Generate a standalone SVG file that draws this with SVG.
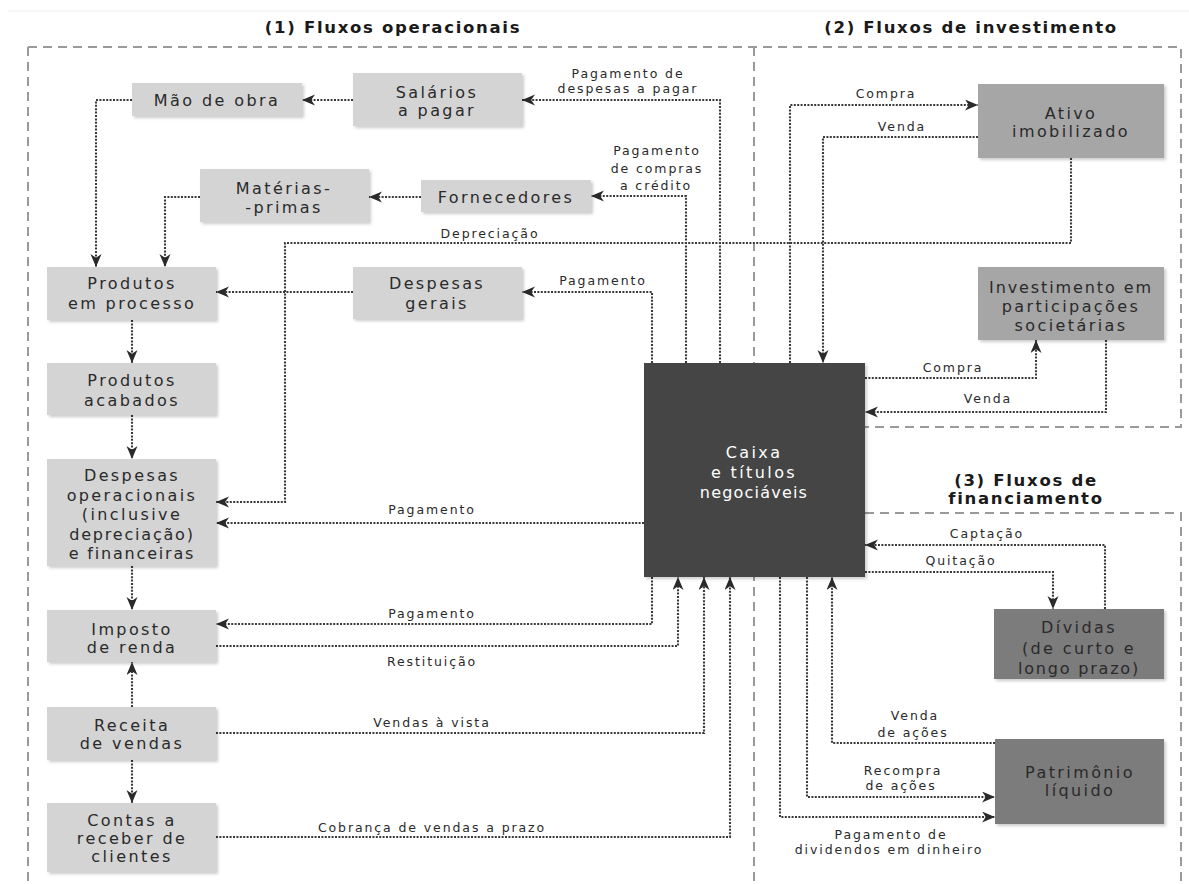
<svg xmlns="http://www.w3.org/2000/svg" width="1189" height="884" viewBox="0 0 1189 884">
<style>
.sec{fill:none;stroke:#9a9a9a;stroke-width:2;stroke-dasharray:9 6}
.c{fill:none;stroke:#3a3a3a;stroke-width:2.1;stroke-dasharray:2 1.4;marker-end:url(#ah)}
.bx{font-family:"DejaVu Sans",sans-serif;font-size:16px;letter-spacing:2.4px;fill:#2a2a2a;text-anchor:middle}
.lb{font-family:"DejaVu Sans",sans-serif;font-size:12.5px;letter-spacing:1.9px;fill:#2a2a2a;text-anchor:middle}
.tt{font-family:"DejaVu Sans",sans-serif;font-size:16.5px;font-weight:bold;letter-spacing:1.7px;fill:#1a1a1a;text-anchor:middle}
.l{fill:#d4d4d4;filter:url(#sh)}
.m{fill:#a6a6a6;filter:url(#sh)}
.d{fill:#7b7b7b;filter:url(#sh)}
.w{fill:#ffffff}
</style>
<defs>
<marker id="ah" markerUnits="userSpaceOnUse" markerWidth="15" markerHeight="12" refX="13" refY="5.5" orient="auto">
<path d="M0,0 L13,5.5 L0,11 L3.8,5.5 Z" fill="#2a2a2a"/>
</marker>
<filter id="sh" x="-10%" y="-10%" width="125%" height="130%">
<feDropShadow dx="2" dy="2" stdDeviation="1.5" flood-color="#000" flood-opacity="0.2"/>
</filter>
</defs>
<rect width="1189" height="884" fill="#ffffff"/>
<line x1="8" y1="11" x2="1189" y2="11" stroke="#ececec" stroke-width="1"/>

<g id="sections">
<path class="sec" d="M28,47 L1181,47 L1181,427 L754,427"/>
<path class="sec" d="M28,47 L28,884"/>
<path class="sec" d="M754,47 L754,884"/>
<path class="sec" d="M865,513 L1181,513 L1181,884"/>
<text class="tt" x="393" y="33">(1) Fluxos operacionais</text>
<text class="tt" x="971" y="33">(2) Fluxos de investimento</text>
<text class="tt" x="1026" y="486">(3) Fluxos de</text>
<text class="tt" x="1026" y="504">financiamento</text>
</g>

<g id="connectors">
<path class="c" d="M353,100 L302,100"/>
<path class="c" d="M132,100 L96,100 L96,267"/>
<path class="c" d="M421,197 L369,197"/>
<path class="c" d="M200,197 L165,197 L165,267"/>
<path class="c" d="M353,292 L216,292"/>
<path class="c" d="M132,320 L132,363"/>
<path class="c" d="M132,415 L132,459"/>
<path class="c" d="M132,566 L132,610"/>
<path class="c" d="M132,707 L132,662"/>
<path class="c" d="M132,760 L132,803"/>
<path class="c" d="M720,363 L720,100 L522,100"/>
<path class="c" d="M686,363 L686,196 L591,196"/>
<path class="c" d="M652,363 L652,292 L522,292"/>
<path class="c" d="M790,363 L790,105 L978,105"/>
<path class="c" d="M978,137 L823,137 L823,363"/>
<path class="c" d="M1071,158 L1071,243 L285,243 L285,502 L216,502"/>
<path class="c" d="M865,378 L1036,378 L1036,340"/>
<path class="c" d="M1106,340 L1106,412 L865,412"/>
<path class="c" d="M644,523 L216,523"/>
<path class="c" d="M652,577 L652,624 L216,624"/>
<path class="c" d="M216,646 L678,646 L678,577"/>
<path class="c" d="M216,733 L704,733 L704,577"/>
<path class="c" d="M216,837 L730,837 L730,577"/>
<path class="c" d="M1105,609 L1105,545 L865,545"/>
<path class="c" d="M865,572 L1053,572 L1053,609"/>
<path class="c" d="M995,743 L832,743 L832,577"/>
<path class="c" d="M807,577 L807,797 L995,797"/>
<path class="c" d="M780,577 L780,817 L995,817"/>
<text class="lb" x="628" y="78">Pagamento de</text>
<text class="lb" x="628" y="93">despesas a pagar</text>
<text class="lb" x="657" y="155">Pagamento</text>
<text class="lb" x="657" y="173">de compras</text>
<text class="lb" x="656" y="190">a crédito</text>
<text class="lb" x="490" y="238">Depreciação</text>
<text class="lb" x="603" y="285">Pagamento</text>
<text class="lb" x="886" y="98">Compra</text>
<text class="lb" x="902" y="131">Venda</text>
<text class="lb" x="953" y="372">Compra</text>
<text class="lb" x="988" y="403">Venda</text>
<text class="lb" x="432" y="514">Pagamento</text>
<text class="lb" x="432" y="618">Pagamento</text>
<text class="lb" x="432" y="666">Restituição</text>
<text class="lb" x="432" y="727">Vendas à vista</text>
<text class="lb" x="432" y="832">Cobrança de vendas a prazo</text>
<text class="lb" x="987" y="538">Captação</text>
<text class="lb" x="961" y="565">Quitação</text>
<text class="lb" x="915" y="720">Venda</text>
<text class="lb" x="913" y="737">de ações</text>
<text class="lb" x="903" y="775">Recompra</text>
<text class="lb" x="901" y="790">de ações</text>
<text class="lb" x="891" y="839">Pagamento de</text>
<text class="lb" x="889" y="854">dividendos em dinheiro</text>
</g>

<g id="mao-de-obra"><rect class="l" x="132" y="83" width="170" height="33"/><text class="bx" x="217" y="105.5">Mão de obra</text></g>
<g id="salarios"><rect class="l" x="353" y="73" width="169" height="53"/><text class="bx" x="437" y="97.5">Salários</text><text class="bx" x="437" y="115.5">a pagar</text></g>
<g id="materias"><rect class="l" x="200" y="169" width="169" height="53"/><text class="bx" x="284" y="193.5">Matérias-</text><text class="bx" x="284" y="212.5">-primas</text></g>
<g id="fornecedores"><rect class="l" x="421" y="180" width="170" height="32"/><text class="bx" x="506" y="202.5">Fornecedores</text></g>
<g id="produtos-processo"><rect class="l" x="47" y="267" width="169" height="53"/><text class="bx" x="132" y="288.5">Produtos</text><text class="bx" x="132" y="308.5">em processo</text></g>
<g id="despesas-gerais"><rect class="l" x="353" y="267" width="169" height="52"/><text class="bx" x="437" y="288.5">Despesas</text><text class="bx" x="437" y="308.5">gerais</text></g>
<g id="produtos-acabados"><rect class="l" x="47" y="363" width="169" height="52"/><text class="bx" x="132" y="385.5">Produtos</text><text class="bx" x="132" y="405.5">acabados</text></g>
<g id="despesas-operacionais"><rect class="l" x="47" y="459" width="169" height="107"/><text class="bx" x="132" y="481">Despesas</text><text class="bx" x="132" y="500.5">operacionais</text><text class="bx" x="132" y="520">(inclusive</text><text class="bx" x="132" y="539.5" style="letter-spacing:1.8px">depreciação)</text><text class="bx" x="132" y="559" style="letter-spacing:1.8px">e financeiras</text></g>
<g id="imposto"><rect class="l" x="47" y="610" width="169" height="52"/><text class="bx" x="132" y="634.5">Imposto</text><text class="bx" x="132" y="652.5">de renda</text></g>
<g id="receita"><rect class="l" x="47" y="707" width="169" height="53"/><text class="bx" x="132" y="730.5">Receita</text><text class="bx" x="132" y="748.5">de vendas</text></g>
<g id="contas-receber"><rect class="l" x="47" y="803" width="169" height="69"/><text class="bx" x="132" y="825.5">Contas a</text><text class="bx" x="132" y="843.5">receber de</text><text class="bx" x="132" y="862">clientes</text></g>
<g id="ativo"><rect class="m" x="978" y="84" width="186" height="74"/><text class="bx" x="1071" y="118.5">Ativo</text><text class="bx" x="1071" y="136.5">imobilizado</text></g>
<g id="investimento"><rect class="m" x="978" y="267" width="186" height="73"/><text class="bx" x="1071" y="292.5" style="letter-spacing:1.9px">Investimento em</text><text class="bx" x="1071" y="311.5">participações</text><text class="bx" x="1071" y="330.5">societárias</text></g>
<g id="caixa"><rect x="644" y="363" width="221" height="214" fill="#444444" filter="url(#sh)"/><text class="bx w" x="754" y="457.5" style="fill:#fff">Caixa</text><text class="bx w" x="754" y="477.5" style="fill:#fff">e títulos</text><text class="bx w" x="754" y="497.5" style="fill:#fff;letter-spacing:1.2px">negociáveis</text></g>
<g id="dividas"><rect class="d" x="994" y="609" width="170" height="70"/><text class="bx" x="1079" y="632.5">Dívidas</text><text class="bx" x="1079" y="653.5">(de curto e</text><text class="bx" x="1079" y="673.5" style="letter-spacing:1.8px">longo prazo)</text></g>
<g id="patrimonio"><rect class="d" x="995" y="739" width="169" height="85"/><text class="bx" x="1080" y="777.5">Patrimônio</text><text class="bx" x="1080" y="795.5">líquido</text></g>
</svg>
